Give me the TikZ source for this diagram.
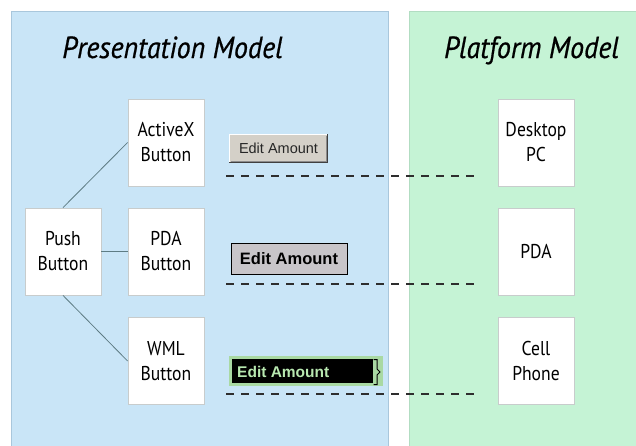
\documentclass[tikz,border=0pt]{standalone}
\usepackage{fontspec}
\newfontfamily\boxfont{PT Sans}[FakeStretch=0.88]
\newfontfamily\titlefont{PT Sans}[FakeStretch=0.92, FakeBold=0.6]
\newfontfamily\winfont{Liberation Sans}
\definecolor{paneblue}{HTML}{C9E5F7}
\definecolor{paneblueedge}{HTML}{A9C7DC}
\definecolor{panegreen}{HTML}{C5F3D5}
\definecolor{panegreenedge}{HTML}{B2DDC2}
\definecolor{boxedge}{HTML}{C8CCCC}
\definecolor{linkline}{HTML}{5E7C84}
\definecolor{dashcol}{HTML}{2E2E2E}
\definecolor{wingray}{HTML}{D4D0C8}
\definecolor{pdagray}{HTML}{C8C5C9}
\definecolor{wmlgreen}{HTML}{A9D9A3}
\definecolor{wmltext}{HTML}{B8E8B0}
\tikzset{
  panel/.style={draw=#1edge, fill=#1, line width=0.8pt},
  modelbox/.style={draw=boxedge, fill=white, line width=0.8pt,
    minimum width=76pt, minimum height=87pt, inner sep=0pt,
    align=center, font=\boxfont\fontsize{20}{25}\selectfont},
  paneltitle/.style={anchor=base, inner sep=0pt,
    font=\titlefont\itshape\fontsize{30.5}{32}\selectfont},
  link/.style={draw=linkline, line width=0.8pt},
  mapping/.style={draw=dashcol, line width=2pt, dash pattern=on 8pt off 7pt},
}
\begin{document}
\begin{tikzpicture}[x=1pt, y=-1pt]
\useasboundingbox (0,0) rectangle (636,445);
% background panels
\path[panel=paneblue] (11,11) rectangle (388,447);
\path[panel=panegreen] (409,11) rectangle (640,447);
\node[paneltitle] (ptitle) at (172.5,58) {Presentation Model};
\node[paneltitle] (ftitle) at (531.5,58) {Platform Model};

% presentation model widgets
\node[modelbox] (push) at (63,251.5) {Push\\Button};
\node[modelbox] (activex) at (166,142.5) {ActiveX\\Button};
\node[modelbox] (pdab) at (166,251.5) {PDA\\Button};
\node[modelbox] (wml) at (166,361) {WML\\Button};
\draw[link] (push.north) -- (activex.west);
\draw[link] (push.east) -- (pdab.west);
\draw[link] (push.south) -- (wml.west);

% platform model devices
\node[modelbox] (desktop) at (536,142.5) {Desktop\\PC};
\node[modelbox] (pda) at (536,251.5) {PDA};
\node[modelbox] (phone) at (536,361) {Cell\\Phone};

% rendered "Edit Amount" controls
% Windows style raised button
\fill[wingray] (229,134) rectangle (328,163);
\draw[white, line width=1pt] (229.5,162.5) -- (229.5,134.5) -- (327.5,134.5);
\draw[black!75, line width=1.2pt] (229,162.5) -- (327.5,162.5) -- (327.5,134);
\draw[black!45, line width=1pt] (230.5,161.5) -- (326.5,161.5) -- (326.5,135.5);
\node[inner sep=0pt, text=black!85, font=\winfont\fontsize{14.5}{16}\selectfont]
  (winbtn) at (278.5,148.5) {Edit Amount};
% PDA style flat button
\node[draw=black, fill=pdagray, line width=0.9pt, minimum width=116pt,
  minimum height=31pt, inner sep=0pt,
  font=\winfont\bfseries\fontsize{16.5}{18}\selectfont]
  (pdabtn) at (289,258.5) {Edit Amount};
% WML style soft key
\fill[wmlgreen] (229,356) rectangle (383,386);
\fill[black] (232,359) rectangle (373,382.5);
\node[inner sep=0pt, anchor=west, text=wmltext,
  font=\winfont\bfseries\fontsize{15.5}{17}\selectfont]
  (wmlbtn) at (237,372) {Edit Amount};
\draw[black, line width=1pt] (373.5,359.5) -- (377,359.5) -- (377,369)
  -- (380,372) -- (377,375) -- (377,384.5) -- (373.5,384.5);

% dashed mappings between controls and devices
\coordinate (m1a) at (226,176);
\coordinate (m1b) at (477,176);
\coordinate (m2a) at (226,284);
\coordinate (m2b) at (477,284);
\coordinate (m3a) at (226,394);
\coordinate (m3b) at (477,394);
\draw[mapping] (m1a) -- (m1b);
\draw[mapping] (m2a) -- (m2b);
\draw[mapping] (m3a) -- (m3b);
\end{tikzpicture}
\end{document}
